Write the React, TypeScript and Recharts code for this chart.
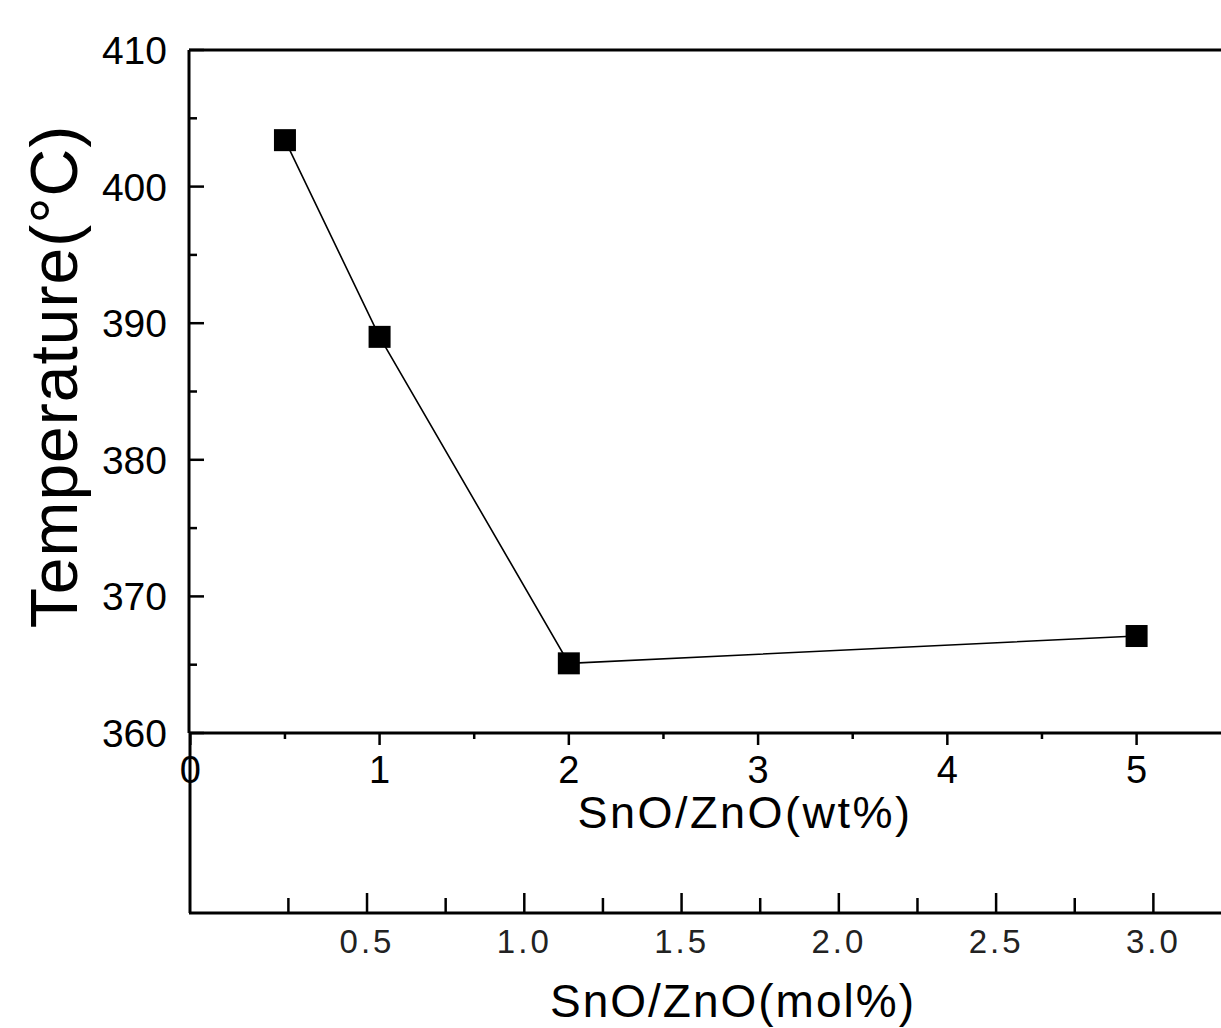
import React from "react";
import { ComposedChart, Line, XAxis, YAxis, ReferenceLine } from "recharts";

// values
const wtPercent = [0.5, 1, 2, 5];
const temperature = [403.4, 389.0, 365.1, 367.1];

const tempTicks = [360, 365, 370, 375, 380, 385, 390, 395, 400, 405, 410];
const wtTicks = [0, 0.5, 1, 1.5, 2, 2.5, 3, 3.5, 4, 4.5, 5];
const molTicks = [0.25, 0.5, 0.75, 1.0, 1.25, 1.5, 1.75, 2.0, 2.25, 2.5, 2.75, 3.0];

const data = wtPercent.map((wt, i) => ({ wt, temp: temperature[i] }));

const FONT = "'Liberation Sans', Arial, sans-serif";
const WT_AXIS_HEIGHT = 180;
const MOL_AXIS_HEIGHT = 115;

function TempTick(props: any) {
  const { x, y, payload } = props;
  const major = payload.value % 10 === 0;
  return (
    <g>
      <line x1={x} x2={x + (major ? 15 : 8)} y1={y} y2={y} stroke="#000" strokeWidth={2.5} />
      {major && (
        <text x={x - 22} y={y + 14} textAnchor="end" fontSize={39} fontFamily={FONT} fill="#000">
          {payload.value}
        </text>
      )}
    </g>
  );
}

function WtTick(props: any) {
  const { x, y, payload } = props;
  const major = Number.isInteger(payload.value);
  return (
    <g>
      <line x1={x} x2={x} y1={y} y2={y + (major ? 12 : 6)} stroke="#000" strokeWidth={2.5} />
      {major && (
        <text x={x} y={y + 50} textAnchor="middle" fontSize={38} fontFamily={FONT} fill="#000">
          {payload.value}
        </text>
      )}
    </g>
  );
}

function MolTick(props: any) {
  const { x, y, payload } = props;
  const major = Math.abs((payload.value * 2) % 1) < 1e-6;
  return (
    <g>
      <line x1={x} x2={x} y1={y} y2={y - (major ? 20 : 15)} stroke="#000" strokeWidth={2.5} />
      {major && (
        <text
          x={x}
          y={y + 40}
          textAnchor="middle"
          fontSize={33}
          fontFamily={FONT}
          letterSpacing={3}
          fill="#222"
        >
          {payload.value.toFixed(1)}
        </text>
      )}
    </g>
  );
}

function TempTitle(props: any) {
  const vb = props.viewBox;
  return (
    <text
      transform={`translate(${vb.x + 77},${vb.y + vb.height / 2 - 15}) rotate(-90)`}
      textAnchor="middle"
      fontSize={66}
      fontFamily={FONT}
      letterSpacing={1}
      fill="#000"
    >
      Temperature(°C)
    </text>
  );
}

function WtTitle(props: any) {
  const vb = props.viewBox;
  return (
    <text
      x={vb.x + vb.width / 2 + 40}
      y={vb.y + 95}
      textAnchor="middle"
      fontSize={45}
      fontFamily={FONT}
      letterSpacing={2.5}
      fill="#000"
    >
      SnO/ZnO(wt%)
    </text>
  );
}

function MolTitle(props: any) {
  const vb = props.viewBox;
  return (
    <g>
      {/* left frame line continues down to the mol% axis */}
      <line x1={vb.x + 1} x2={vb.x + 1} y1={vb.y - WT_AXIS_HEIGHT} y2={vb.y} stroke="#000" strokeWidth={3} />
      <text
        x={vb.x + vb.width / 2 + 28}
        y={vb.y + 104}
        textAnchor="middle"
        fontSize={46}
        fontFamily={FONT}
        letterSpacing={2}
        fill="#000"
      >
        SnO/ZnO(mol%)
      </text>
    </g>
  );
}

function SquareDot(props: any) {
  const { cx, cy, index } = props;
  return <rect key={index} x={cx - 11} y={cy - 11} width={22} height={22} fill="#000" />;
}

export default function App() {
  return (
    <div style={{ position: "absolute", left: 0, top: 0, background: "#fff" }}>
      <ComposedChart
        width={1221}
        height={1028}
        data={data}
        margin={{ top: 50, right: 0, bottom: 0, left: 0 }}
      >
        <XAxis
          xAxisId="b"
          dataKey="wt"
          type="number"
          scale="linear"
          domain={[-0.066, 3.215]}
          allowDataOverflow
          ticks={molTicks}
          interval={0}
          height={MOL_AXIS_HEIGHT}
          tickSize={0}
          tickMargin={0}
          tickLine={false}
          tick={<MolTick />}
          axisLine={{ stroke: "#000", strokeWidth: 3 }}
          label={{ content: <MolTitle /> }}
        />
        <XAxis
          xAxisId="a"
          dataKey="wt"
          type="number"
          domain={[-0.007, 5.446]}
          allowDataOverflow
          ticks={wtTicks}
          interval={0}
          height={WT_AXIS_HEIGHT}
          tickSize={0}
          tickMargin={0}
          tickLine={false}
          tick={<WtTick />}
          axisLine={{ stroke: "#000", strokeWidth: 3 }}
          label={{ content: <WtTitle /> }}
        />
        <YAxis
          type="number"
          domain={[360, 410]}
          allowDataOverflow
          ticks={tempTicks}
          interval={0}
          width={189}
          tickSize={0}
          tickMargin={0}
          tickLine={false}
          tick={<TempTick />}
          axisLine={{ stroke: "#000", strokeWidth: 3 }}
          label={{ content: <TempTitle /> }}
        />
        <ReferenceLine xAxisId="a" y={410} stroke="#000" strokeWidth={3} />
        <Line
          xAxisId="a"
          dataKey="temp"
          type="linear"
          stroke="#000"
          strokeWidth={1.6}
          dot={<SquareDot />}
          activeDot={false}
          isAnimationActive={false}
        />
      </ComposedChart>
    </div>
  );
}
